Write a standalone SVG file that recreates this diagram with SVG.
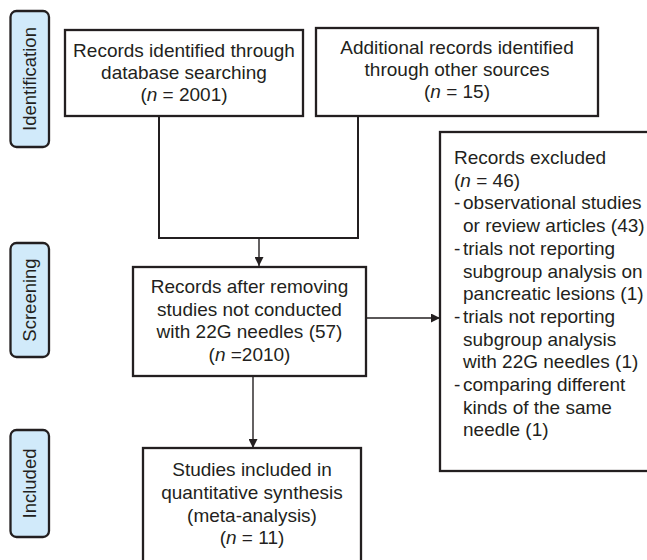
<svg xmlns="http://www.w3.org/2000/svg" width="647" height="560" viewBox="0 0 647 560">
<style>
.box{fill:#fff;stroke:#231f20;stroke-width:2.3}
.tab{fill:#d1eafa;stroke:#231f20;stroke-width:2.3}
.t{font-family:"Liberation Sans",Arial,sans-serif;font-size:19px;fill:#231f20}
.c{text-anchor:middle}
.tt{font-family:"Liberation Sans",Arial,sans-serif;font-size:18.5px;fill:#231f20;text-anchor:middle}
.ln{fill:none;stroke:#231f20;stroke-width:2}
.ar{fill:none;stroke:#231f20;stroke-width:1.4}
.i{font-style:italic}
</style>
<defs>
<marker id="ah" viewBox="0 0 10 10" refX="10" refY="5" markerWidth="9" markerHeight="9" markerUnits="userSpaceOnUse" orient="auto">
<path d="M0,0 L10,5 L0,10 Z" fill="#231f20"/>
</marker>
</defs>

<g id="tab-identification">
<rect class="tab" x="10.5" y="11" width="38.5" height="136" rx="6"/>
<text class="tt" transform="translate(36,79) rotate(-90)">Identification</text>
</g>
<g id="tab-screening">
<rect class="tab" x="10.5" y="243" width="38.5" height="114" rx="6"/>
<text class="tt" transform="translate(36,300) rotate(-90)">Screening</text>
</g>
<g id="tab-included">
<rect class="tab" x="10.5" y="430" width="38.5" height="107" rx="6"/>
<text class="tt" transform="translate(36,483.5) rotate(-90)">Included</text>
</g>

<g id="connectors">
<polyline class="ln" points="159,116 159,238 358,238 358,116"/>
<line class="ar" x1="259" y1="238" x2="259" y2="266" marker-end="url(#ah)"/>
<line class="ar" x1="366" y1="318" x2="440" y2="318" marker-end="url(#ah)"/>
<line class="ar" x1="253" y1="376" x2="253" y2="448" marker-end="url(#ah)"/>
</g>

<g id="node-database">
<rect class="box" x="65" y="30" width="238" height="86"/>
<text class="t c" x="184" y="57">Records identified through</text>
<text class="t c" x="184" y="79">database searching</text>
<text class="t c" x="184" y="101">(<tspan class="i">n</tspan> = 2001)</text>
</g>

<g id="node-other">
<rect class="box" x="316" y="28" width="282" height="88"/>
<text class="t c" x="457" y="54">Additional records identified</text>
<text class="t c" x="457" y="76">through other sources</text>
<text class="t c" x="457" y="98">(<tspan class="i">n</tspan> = 15)</text>
</g>

<g id="node-screening">
<rect class="box" x="133" y="267" width="233" height="109"/>
<text class="t c" x="249.5" y="293">Records after removing</text>
<text class="t c" x="249.5" y="315.7">studies not conducted</text>
<text class="t c" x="249.5" y="338.4">with 22G needles (57)</text>
<text class="t c" x="249.5" y="361">(<tspan class="i">n</tspan> =2010)</text>
</g>

<g id="node-excluded">
<rect class="box" x="440" y="132" width="230" height="339"/>
<text class="t" x="454" y="164">Records excluded</text>
<text class="t" x="454" y="186.7">(<tspan class="i">n</tspan> = 46)</text>
<text class="t" x="454" y="209.4">-</text>
<text class="t" x="463" y="209.4">observational studies</text>
<text class="t" x="463" y="232.1">or review articles (43)</text>
<text class="t" x="454" y="254.8">-</text>
<text class="t" x="463" y="254.8">trials not reporting</text>
<text class="t" x="463" y="277.5">subgroup analysis on</text>
<text class="t" x="463" y="300.2">pancreatic lesions (1)</text>
<text class="t" x="454" y="322.9">-</text>
<text class="t" x="463" y="322.9">trials not reporting</text>
<text class="t" x="463" y="345.6">subgroup analysis</text>
<text class="t" x="463" y="368.3">with 22G needles (1)</text>
<text class="t" x="454" y="391">-</text>
<text class="t" x="463" y="391">comparing different</text>
<text class="t" x="463" y="413.7">kinds of the same</text>
<text class="t" x="463" y="436.4">needle (1)</text>
</g>

<g id="node-included">
<rect class="box" x="143" y="448" width="218" height="130"/>
<text class="t c" x="252" y="476">Studies included in</text>
<text class="t c" x="252" y="499">quantitative synthesis</text>
<text class="t c" x="252" y="522">(meta-analysis)</text>
<text class="t c" x="252" y="544">(<tspan class="i">n</tspan> = 11)</text>
</g>
</svg>
